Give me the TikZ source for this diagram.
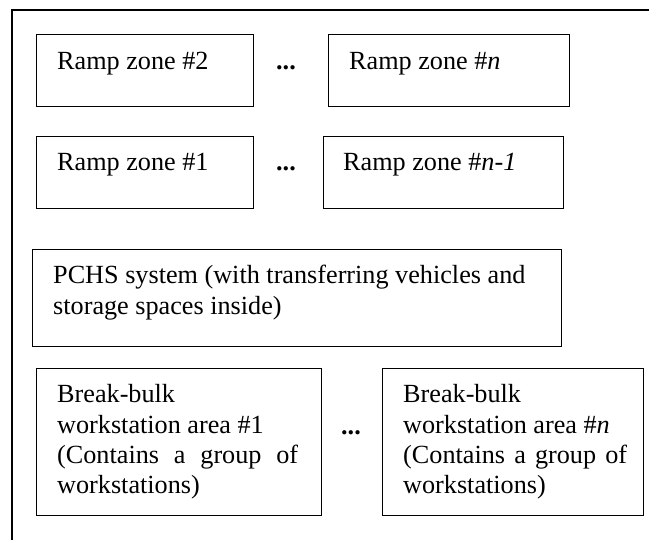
\documentclass[tikz,border=0pt]{standalone}
\usepackage{fontspec}
\setmainfont{Liberation Serif}
\begin{document}
\begin{tikzpicture}[x=1pt,y=-1pt,
  box/.style={draw, line width=1.2pt, rectangle, inner sep=0pt, anchor=north west},
  txt/.style={inner sep=0pt, anchor=base west, font=\fontsize{26.2}{30.3}\selectfont},
  dots/.style={inner sep=0pt, anchor=base, font=\fontsize{26.2}{30.3}\selectfont\bfseries}]
\useasboundingbox (0,0) rectangle (649,540);
% outer frame (cropped)
\coordinate (fbl) at (12,540);
\coordinate (ftl) at (12,10);
\coordinate (ftr) at (649,10);
\draw[line width=1.4pt] (fbl) -- (ftl) -- (ftr);
% ramp zones
\node[box, minimum width=217pt, minimum height=72pt] (r2) at (36,34) {};
\node[box, minimum width=241pt, minimum height=72pt] (rn) at (328,34) {};
\node[box, minimum width=217pt, minimum height=72pt] (r1) at (36,136) {};
\node[box, minimum width=240pt, minimum height=72pt] (rn1) at (323,136) {};
\node[txt] (t2) at (57,70) {Ramp zone \#2};
\node[txt] (tn) at (349,70) {Ramp zone \#\textit{n}};
\node[txt] (t1) at (57,171) {Ramp zone \#1};
\node[txt] (tn1) at (343,171) {Ramp zone \#\textit{n-1}};
\node[dots] (d1) at (286,70) {...};
\node[dots] (d2) at (286,171) {...};
% PCHS
\node[box, minimum width=529pt, minimum height=97pt] (pchs) at (32,249) {};
\node[txt, align=left] (tp) at (53,284) {\parbox[t]{490pt}{\fontsize{26.2}{30.3}\selectfont\raggedright PCHS system (with transferring vehicles and\\ storage spaces inside)}};
% break-bulk areas
\node[box, minimum width=285pt, minimum height=147pt] (b1) at (36,368) {};
\node[box, minimum width=261pt, minimum height=147pt] (bn) at (382,368) {};
\node[txt] (tb1) at (57,403) {\parbox[t]{241pt}{\fontsize{26.2}{30.3}\selectfont\raggedright Break-bulk\\ workstation area \#1\\ \makebox[241pt][s]{(Contains a group of}\\ workstations)}};
\node[txt] (tbn) at (403,403) {\parbox[t]{224pt}{\fontsize{26.2}{30.3}\selectfont\raggedright Break-bulk\\ workstation area \#\textit{n}\\ \makebox[224pt][s]{(Contains a group of}\\ workstations)}};
\node[dots] (d3) at (351,435) {...};
\end{tikzpicture}
\end{document}
